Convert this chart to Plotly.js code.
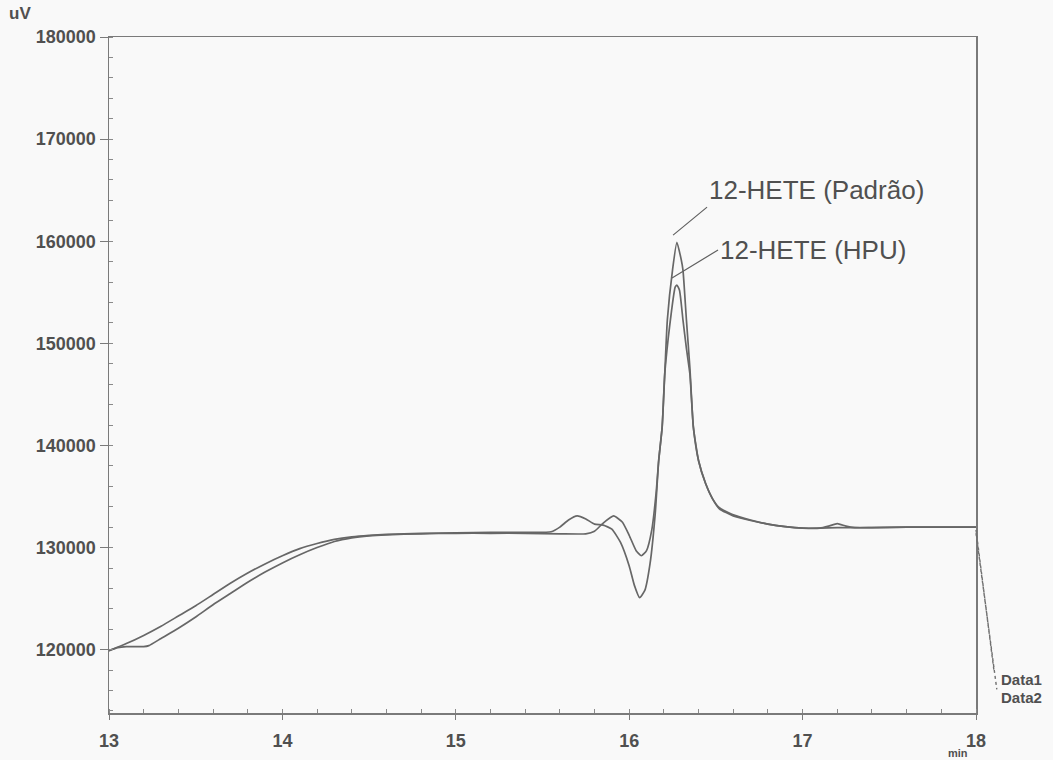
<!DOCTYPE html>
<html>
<head>
<meta charset="utf-8">
<script src="https://cdn.plot.ly/plotly-3.0.1.min.js"></script>
<style>html,body{margin:0;padding:0;background:#f9f9f9;}</style>
</head>
<body>
<div id="chart" style="width:1053px;height:760px;"></div>
<script>
// Data1 = 12-HETE (Padrão)
const time1 = [13.0, 13.1, 13.2, 13.3, 13.4, 13.5, 13.6, 13.7, 13.8, 13.9, 14.0, 14.1, 14.2, 14.3, 14.4, 14.5, 14.6, 14.8, 15.0, 15.2, 15.4, 15.55, 15.6, 15.65, 15.7, 15.75, 15.8, 15.85, 15.9, 15.95, 16.0, 16.03, 16.06, 16.09, 16.12, 16.15, 16.17, 16.19, 16.205, 16.22, 16.25, 16.275, 16.3, 16.31, 16.33, 16.35, 16.37, 16.4, 16.44, 16.48, 16.52, 16.6, 16.7, 16.8, 16.9, 17.0, 17.1, 17.2, 17.3, 17.4, 17.6, 17.8, 18.0];
const signal1 = [119900, 120600, 121400, 122300, 123300, 124300, 125400, 126500, 127500, 128400, 129200, 129900, 130400, 130800, 131050, 131200, 131300, 131400, 131450, 131500, 131500, 131550, 132000, 132700, 133100, 132800, 132300, 132200, 131800, 130500, 128200, 126300, 125100, 125800, 128400, 133300, 138500, 141800, 147000, 152300, 157200, 159900, 158200, 157200, 152300, 147600, 141800, 138500, 136300, 134800, 133900, 133200, 132700, 132300, 132050, 131900, 131900, 131950, 131950, 131950, 132000, 132000, 132000];

// Data2 = 12-HETE (HPU)
const time2 = [13.0, 13.05, 13.1, 13.2, 13.23, 13.3, 13.4, 13.5, 13.6, 13.7, 13.8, 13.9, 14.0, 14.1, 14.2, 14.3, 14.4, 14.5, 14.6, 14.8, 15.0, 15.2, 15.4, 15.6, 15.75, 15.8, 15.85, 15.91, 15.96, 16.0, 16.04, 16.07, 16.1, 16.13, 16.155, 16.17, 16.19, 16.205, 16.225, 16.245, 16.265, 16.275, 16.29, 16.31, 16.33, 16.35, 16.37, 16.4, 16.44, 16.48, 16.52, 16.6, 16.7, 16.8, 16.9, 17.0, 17.1, 17.15, 17.2, 17.25, 17.3, 17.4, 17.6, 17.8, 18.0];
const signal2 = [119900, 120200, 120300, 120300, 120400, 121100, 122100, 123200, 124400, 125500, 126600, 127600, 128500, 129300, 130000, 130600, 130950, 131150, 131250, 131350, 131400, 131400, 131400, 131350, 131350, 131600, 132400, 133100, 132500, 131200, 129700, 129200, 129700, 131700, 135300, 138500, 141800, 147000, 150500, 153300, 155500, 155700, 155200, 152300, 149500, 147000, 141800, 138500, 136300, 134800, 133800, 133100, 132650, 132300, 132050, 131900, 131900, 132100, 132350, 132100, 131950, 131950, 132000, 132000, 132000];

const xTicks = [13, 14, 15, 16, 17, 18];
const yTicks = [120000, 130000, 140000, 150000, 160000, 170000, 180000];
const seriesNames = ['Data1', 'Data2'];
const peakLabels = ['12-HETE (Padrão)', '12-HETE (HPU)'];
const peakTimes = [16.253, 16.247];
const peakSignals = [160600, 156400];

const lineColor = '#676767';
const textColor = '#505050';
const fontFam = 'Liberation Sans, Arial, sans-serif';

const traces = [
  {x: time1, y: signal1, name: seriesNames[0], mode: 'lines', line: {color: lineColor, width: 1.7, shape: 'spline', smoothing: 0.5}},
  {x: time2, y: signal2, name: seriesNames[1], mode: 'lines', line: {color: lineColor, width: 1.7, shape: 'spline', smoothing: 0.5}}
];

const layout = {
  width: 1053, height: 760,
  margin: {l: 109, r: 77, t: 37, b: 47},
  paper_bgcolor: '#f9f9f9',
  plot_bgcolor: '#f9f9f9',
  showlegend: false,
  font: {family: fontFam, color: textColor},
  xaxis: {
    range: [13, 18], tickvals: xTicks, ticktext: xTicks.map(String),
    showgrid: false, zeroline: false, showline: true, mirror: true,
    linecolor: '#7a7a7a', linewidth: 1.5,
    ticks: 'outside', ticklen: 5, tickcolor: '#7a7a7a',
    ticklabelstandoff: 6,
    minor: {dtick: 0.2, ticks: 'inside', ticklen: 4, tickcolor: '#8a8a8a'},
    tickfont: {family: fontFam, size: 18, color: textColor, weight: 'bold'}
  },
  yaxis: {
    range: [113800, 180000], tickvals: yTicks, ticktext: yTicks.map(String),
    showgrid: false, zeroline: false, showline: true, mirror: true,
    linecolor: '#7a7a7a', linewidth: 1.5,
    ticks: 'outside', ticklen: 8, tickcolor: '#7a7a7a',
    minor: {dtick: 2000, ticks: 'inside', ticklen: 4, tickcolor: '#8a8a8a'},
    tickfont: {family: fontFam, size: 18, color: textColor, weight: 'bold'}
  },
  annotations: [
    {x: peakTimes[0], y: peakSignals[0], xref: 'x', yref: 'y', text: peakLabels[0],
     showarrow: true, arrowhead: 0, arrowwidth: 1.2, arrowcolor: '#606060',
     ax: 34, ay: -28, xanchor: 'left', yanchor: 'bottom',
     font: {family: fontFam, size: 26, color: textColor}},
    {x: peakTimes[1], y: peakSignals[1], xref: 'x', yref: 'y', text: peakLabels[1],
     showarrow: true, arrowhead: 0, arrowwidth: 1.2, arrowcolor: '#606060',
     ax: 46, ay: -28, xanchor: 'left', yanchor: 'middle',
     font: {family: fontFam, size: 26, color: textColor}},
    {x: -0.103, y: 1.0355, xref: 'paper', yref: 'paper', text: 'uV', showarrow: false,
     xanchor: 'center', yanchor: 'middle',
     font: {family: fontFam, size: 17, color: textColor, weight: 'bold'}},
    {x: 0.979, y: -0.0592, xref: 'paper', yref: 'paper', text: 'min', showarrow: false,
     xanchor: 'center', yanchor: 'middle',
     font: {family: fontFam, size: 11, color: textColor, weight: 'bold'}},
    {x: 1.026, y: 0.049, xref: 'paper', yref: 'paper', text: seriesNames[0], showarrow: false,
     xanchor: 'left', yanchor: 'middle',
     font: {family: fontFam, size: 15, color: textColor, weight: 'bold'}},
    {x: 1.026, y: 0.023, xref: 'paper', yref: 'paper', text: seriesNames[1], showarrow: false,
     xanchor: 'left', yanchor: 'middle',
     font: {family: fontFam, size: 15, color: textColor, weight: 'bold'}}
  ],
  shapes: [
    {type: 'line', xref: 'paper', yref: 'paper', x0: 1.0, y0: 0.271, x1: 1.021, y1: 0.06,
     line: {color: '#707070', width: 1.4, dash: 'dot'}},
    {type: 'line', xref: 'paper', yref: 'paper', x0: 1.0, y0: 0.266, x1: 1.024, y1: 0.035,
     line: {color: '#707070', width: 1.4, dash: 'dot'}}
  ]
};

Plotly.newPlot('chart', traces, layout, {displayModeBar: false, staticPlot: true});
</script>
</body>
</html>
